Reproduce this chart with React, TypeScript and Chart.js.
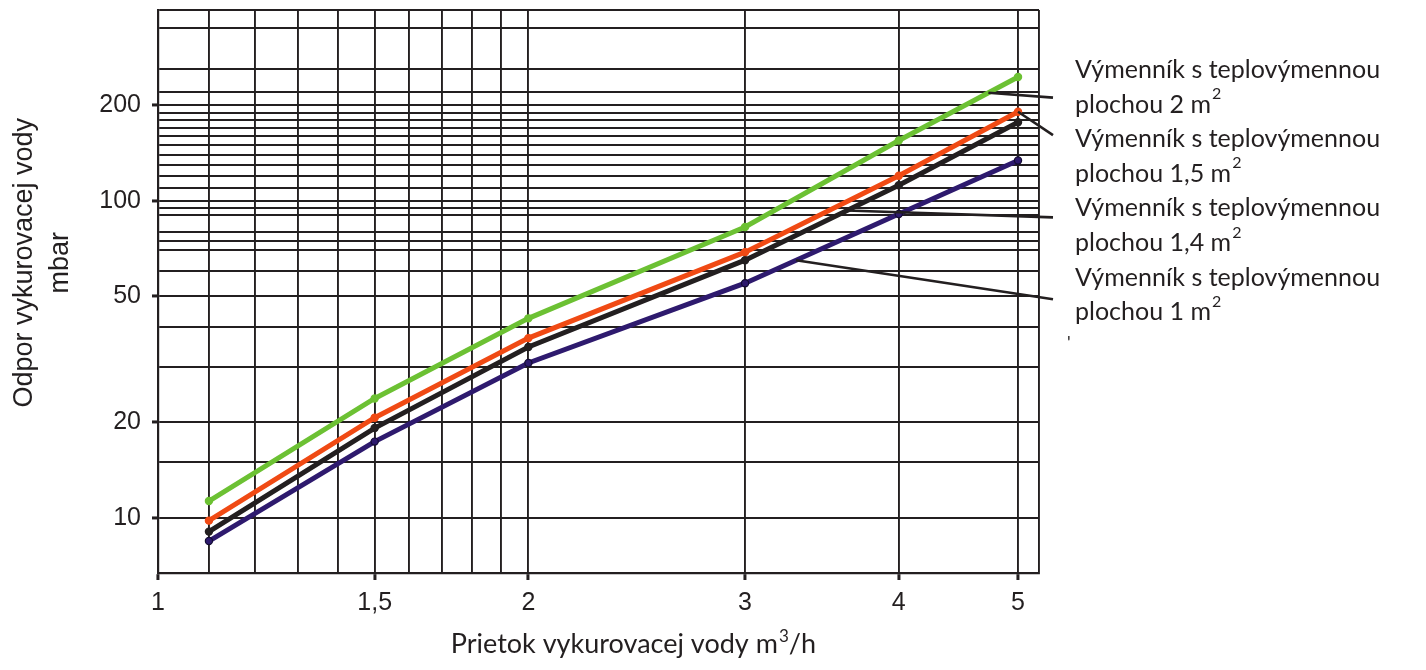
import { useEffect, useRef } from "react";
import { Chart, registerables } from "chart.js";

Chart.register(...registerables);

// prietok (m3/h) a odpor (mbar) odčítané z grafu
const flow = [1.1, 1.5, 2, 3, 4, 5];
const area2 = [11.3, 23.8, 42.6, 82.7, 155, 246];
const area15 = [9.8, 20.7, 36.9, 68.9, 120, 191];
const area14 = [9.05, 19.2, 34.6, 65.0, 112, 177];
const area1 = [8.45, 17.4, 30.8, 55.0, 90.9, 134];

const X_MIN = 1;
const X_MAX = 5.2;
const Y_MIN = 6.7;
const Y_MAX = 400;

const xGrid = [1, 1.1, 1.2, 1.3, 1.4, 1.5, 1.6, 1.7, 1.8, 1.9, 2, 3, 4, 5];
const xLabels = [1, 1.5, 2, 3, 4, 5];
const yGrid = [10, 15, 20, 30, 40, 50, 60, 70, 75, 80, 90, 95, 100, 110, 120, 130, 140, 150, 160, 170, 180, 190, 200, 220, 260, 350];
const yLabels = [10, 20, 50, 100, 200];

const labelAreas = ["2", "1,5", "1,4", "1"];
const yTitle = ["Odpor vykurovacej vody", "mbar"];
const xTitle = ["Prietok vykurovacej vody m", "3", "/h"];

const INK = "#231f20";
const GREEN = "#6cc133";
const ORANGE = "#f04a14";
const BLACK = "#231f20";
const PURPLE = "#2e1a6e";

const ARIAL = "'Liberation Sans', Arial, sans-serif";
const CALIBRI = "Lato, 'Open Sans', sans-serif";

// odkazové čiary: séria, prietok kde čiara začína, riadok popisu, posun konca
const leaders = [
  { series: 0, at: 4.73, line: 1, dy: -7 },
  { series: 1, at: 5, line: 2, dy: -4 },
  { series: 2, at: 3.63, line: 4, dy: 9 },
  { series: 3, at: 3.3, line: 7, dy: -13 },
];

const seriesData = [area2, area15, area14, area1];

const valueAt = (values: number[], xv: number) => {
  for (let i = 0; i < flow.length - 1; i++) {
    if (xv <= flow[i + 1] || i === flow.length - 2) {
      const t = (Math.log(xv) - Math.log(flow[i])) / (Math.log(flow[i + 1]) - Math.log(flow[i]));
      return Math.exp(Math.log(values[i]) + t * (Math.log(values[i + 1]) - Math.log(values[i])));
    }
  }
  return values[values.length - 1];
};

const drawSup = (ctx: CanvasRenderingContext2D, parts: string[], x: number, y: number, size: number, align: "left" | "center") => {
  ctx.font = `${size}px ${CALIBRI}`;
  const w0 = ctx.measureText(parts[0]).width;
  const w2 = parts[2] ? ctx.measureText(parts[2]).width : 0;
  ctx.font = `${Math.round(size * 0.62)}px ${CALIBRI}`;
  const w1 = ctx.measureText(parts[1]).width;
  let sx = align === "center" ? x - (w0 + w1 + w2) / 2 : x;
  ctx.textAlign = "left";
  ctx.font = `${size}px ${CALIBRI}`;
  ctx.fillText(parts[0], sx, y);
  sx += w0 + 1;
  ctx.font = `${Math.round(size * 0.62)}px ${CALIBRI}`;
  ctx.fillText(parts[1], sx, y - size * 0.42);
  sx += w1;
  if (parts[2]) {
    ctx.font = `${size}px ${CALIBRI}`;
    ctx.fillText(parts[2], sx, y);
  }
};

const annotations = {
  id: "annotations",
  afterDraw(chart: Chart) {
    const { ctx, chartArea } = chart;
    const xs = chart.scales.x;
    const ys = chart.scales.y;
    const h = chartArea.bottom - chartArea.top;
    ctx.save();
    ctx.fillStyle = INK;
    ctx.strokeStyle = INK;

    // os y
    ctx.save();
    ctx.font = `27px ${ARIAL}`;
    ctx.textAlign = "center";
    ctx.textBaseline = "middle";
    ctx.translate(25, chartArea.top + h * 0.449);
    ctx.rotate(-Math.PI / 2);
    ctx.fillText(yTitle[0], 0, 0);
    ctx.fillText(yTitle[1], 0, 36);
    ctx.restore();

    // os x
    ctx.textBaseline = "alphabetic";
    drawSup(ctx, xTitle, chartArea.left + (chartArea.right - chartArea.left) * 0.539, chartArea.bottom + 80, 27, "center");

    // popisy sérií
    const lx = chartArea.right + 36;
    const lineY = (i: number) => chartArea.top + 60 + i * 34.6;
    labelAreas.forEach((a, k) => {
      ctx.textBaseline = "middle";
      ctx.font = `25px ${CALIBRI}`;
      ctx.textAlign = "left";
      ctx.fillText("Výmenník s teplovýmennou", lx, lineY(k * 2));
      drawSup(ctx, [`plochou ${a} m`, "2", ""], lx, lineY(k * 2 + 1), 25, "left");
    });
    ctx.font = `18px ${CALIBRI}`;
    ctx.fillText("'", chartArea.right + 28, lineY(8) - 4);

    // odkazové čiary
    ctx.lineWidth = 2.6;
    leaders.forEach((l) => {
      const sx = xs.getPixelForValue(l.at);
      const sy = ys.getPixelForValue(valueAt(seriesData[l.series], l.at));
      ctx.beginPath();
      ctx.moveTo(sx, sy);
      ctx.lineTo(chartArea.right + 14, lineY(l.line) + l.dy);
      ctx.stroke();
    });
    ctx.restore();
  },
};

const App = () => {
  const canvasRef = useRef<HTMLCanvasElement>(null);
  const chartRef = useRef<Chart | null>(null);

  useEffect(() => {
    if (!canvasRef.current) return;
    if (chartRef.current) chartRef.current.destroy();

    const mk = (values: number[], color: string, edge: string) => ({
      data: flow.map((x, i) => ({ x, y: values[i] })),
      borderColor: color,
      backgroundColor: color,
      borderWidth: 5,
      pointRadius: 3.6,
      pointBackgroundColor: color,
      pointBorderColor: edge,
      pointBorderWidth: 1.2,
      tension: 0,
    });

    const tickFont = { family: ARIAL, size: 25 };

    chartRef.current = new Chart(canvasRef.current, {
      type: "line",
      data: {
        datasets: [
          mk(area2, GREEN, GREEN),
          mk(area15, ORANGE, ORANGE),
          mk(area14, BLACK, BLACK),
          mk(area1, PURPLE, "#140c33"),
        ],
      },
      options: {
        animation: false,
        responsive: true,
        maintainAspectRatio: false,
        layout: { padding: { top: 10, right: 387, bottom: 0, left: 0 } },
        plugins: {
          legend: { display: false },
          tooltip: { enabled: false },
        },
        scales: {
          x: {
            type: "logarithmic",
            min: X_MIN,
            max: X_MAX,
            afterBuildTicks: (scale: any) => {
              scale.ticks = [...xGrid, X_MAX].map((value) => ({ value }));
            },
            afterFit: (scale: any) => {
              scale.height = 97;
              scale.paddingLeft = 0;
              scale.paddingRight = 0;
            },
            ticks: {
              autoSkip: false,
              maxRotation: 0,
              padding: 8,
              color: INK,
              font: tickFont,
              callback: (v: any) => (xLabels.includes(Number(v)) ? String(v).replace(".", ",") : ""),
            },
            grid: {
              color: INK,
              lineWidth: 1.9,
              tickLength: 7,
              tickWidth: 3,
              tickColor: (c: any) => (c.tick && xLabels.includes(c.tick.value) ? INK : "rgba(0,0,0,0)"),
            },
            border: { display: true, color: INK, width: 2.2 },
          },
          y: {
            type: "logarithmic",
            min: Y_MIN,
            max: Y_MAX,
            afterBuildTicks: (scale: any) => {
              scale.ticks = [...yGrid, Y_MAX].map((value) => ({ value }));
            },
            afterFit: (scale: any) => {
              scale.width = 158;
              scale.paddingTop = 0;
              scale.paddingBottom = 0;
            },
            ticks: {
              autoSkip: false,
              padding: 11,
              color: INK,
              font: tickFont,
              callback: (v: any) => (yLabels.includes(Number(v)) ? String(v) : ""),
            },
            grid: {
              color: INK,
              lineWidth: 1.9,
              tickLength: 6,
              tickWidth: 3,
              tickColor: (c: any) => (c.tick && yLabels.includes(c.tick.value) ? INK : "rgba(0,0,0,0)"),
            },
            border: { display: true, color: INK, width: 2.2 },
          },
        },
      },
      plugins: [annotations],
    });

    return () => {
      if (chartRef.current) {
        chartRef.current.destroy();
        chartRef.current = null;
      }
    };
  }, []);

  return (
    <div style={{ position: "absolute", left: 0, top: 0, width: 1426, height: 670, background: "#fff" }}>
      <canvas ref={canvasRef}></canvas>
    </div>
  );
};

export default App;
